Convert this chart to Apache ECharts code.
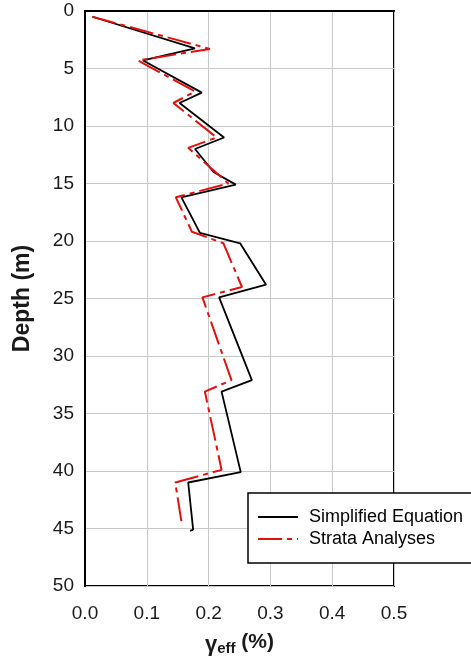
<!DOCTYPE html>
<html>
<head>
<meta charset="utf-8">
<script src="https://cdn.jsdelivr.net/npm/echarts@6/dist/echarts.min.js"></script>
<style>
  html, body { margin: 0; padding: 0; background: #fff; }
  #chart { width: 471px; height: 659px; }
</style>
</head>
<body>
<div id="chart"></div>
<script>
// Effective shear strain (%) against depth (m) for the two methods
const simplifiedStrain = [0.012, 0.178, 0.094, 0.189, 0.153, 0.225, 0.178, 0.208, 0.244, 0.156, 0.186, 0.251, 0.293, 0.217, 0.270, 0.221, 0.252, 0.167, 0.175, 0.170];
const simplifiedDepth  = [0.5,   3.25,  4.3,   7.1,   8.0,   11.0,  12.0,  14.0,  15.1,  16.2,  19.3,  20.2,  23.8,  24.9,  32.1,  33.1,  40.1,  41.0,  45.1,  45.2];

const strataStrain = [0.012, 0.202, 0.086, 0.178, 0.143, 0.213, 0.167, 0.232, 0.147, 0.173, 0.224, 0.254, 0.190, 0.237, 0.194, 0.221, 0.146, 0.157];
const strataDepth  = [0.5,   3.3,   4.3,   7.0,   8.0,   11.0,  11.9,  15.0,  16.2,  19.2,  20.2,  24.0,  24.9,  32.1,  33.1,  39.9,  41.0,  44.7];

const seriesNames = ['Simplified Equation', 'Strata Analyses'];
const xTicks = { min: 0, max: 0.5, step: 0.1 };
const yTicks = { min: 0, max: 50, step: 5 };

const FONT = 'Arial, "Liberation Sans", sans-serif';

function pairs(xs, ys) {
  return xs.map((x, i) => [x, ys[i]]);
}

const chart = echarts.init(document.getElementById('chart'), null, { renderer: 'canvas' });

chart.setOption({
  animation: false,
  backgroundColor: '#ffffff',
  grid: {
    left: 85, top: 11, right: 77, bottom: 73,
    outerBoundsMode: 'none',
    containLabel: false,
    show: true,
    borderColor: '#000',
    borderWidth: 2,
    backgroundColor: 'transparent'
  },
  legend: {
    orient: 'vertical',
    left: 248,
    top: 493,
    padding: [15, 14, 15, 9],
    itemGap: 4,
    itemWidth: 40,
    itemHeight: 14,
    borderColor: '#000',
    borderWidth: 1.5,
    backgroundColor: '#fff',
    // line-only legend keys: hide the marker drawn on top of the line
    itemStyle: { opacity: 0 },
    textStyle: { fontFamily: FONT, fontSize: 18, color: '#000', lineHeight: 18, padding: [0, 0, 0, 6] },
    data: seriesNames
  },
  xAxis: {
    type: 'value',
    min: xTicks.min,
    max: xTicks.max,
    interval: xTicks.step,
    axisLine: { show: true, lineStyle: { color: '#000', width: 2 } },
    axisTick: { show: false },
    axisLabel: {
      fontFamily: FONT, fontSize: 19, color: '#1a1a1a', margin: 18,
      formatter: v => v.toFixed(1)
    },
    splitLine: { show: true, lineStyle: { color: '#c8c8c8', width: 1 } },
    name: '{g|γ}{s|eff}{p| (%)}',
    nameLocation: 'middle',
    nameGap: 42,
    nameTextStyle: {
      rich: {
        g: { fontFamily: FONT, fontSize: 22, fontWeight: 'bold', color: '#1a1a1a', verticalAlign: 'bottom', padding: [6, 0, 0, 0] },
        s: { fontFamily: FONT, fontSize: 15, fontWeight: 'bold', color: '#1a1a1a', verticalAlign: 'bottom', padding: [10, 0, 0, 0] },
        p: { fontFamily: FONT, fontSize: 21, fontWeight: 'bold', color: '#1a1a1a' }
      }
    }
  },
  yAxis: {
    type: 'value',
    inverse: true,
    min: yTicks.min,
    max: yTicks.max,
    interval: yTicks.step,
    axisLine: { show: true, lineStyle: { color: '#000', width: 2 } },
    axisTick: { show: false },
    axisLabel: { fontFamily: FONT, fontSize: 19, color: '#1a1a1a', margin: 11 },
    splitLine: { show: true, lineStyle: { color: '#c8c8c8', width: 1 } },
    name: 'Depth (m)',
    nameLocation: 'middle',
    nameGap: 51,
    nameTextStyle: { fontFamily: FONT, fontSize: 23, fontWeight: 'bold', color: '#1a1a1a' }
  },
  series: [
    {
      name: seriesNames[0],
      type: 'line',
      data: pairs(simplifiedStrain, simplifiedDepth),
      symbol: 'none',
      color: '#000',
      lineStyle: { color: '#000', width: 1.8 },
      z: 3
    },
    {
      name: seriesNames[1],
      type: 'line',
      data: pairs(strataStrain, strataDepth),
      symbol: 'none',
      color: '#e01010',
      lineStyle: { color: '#e01010', width: 2, type: [24, 5, 5, 5] },
      z: 4
    }
  ]
});
</script>
</body>
</html>
